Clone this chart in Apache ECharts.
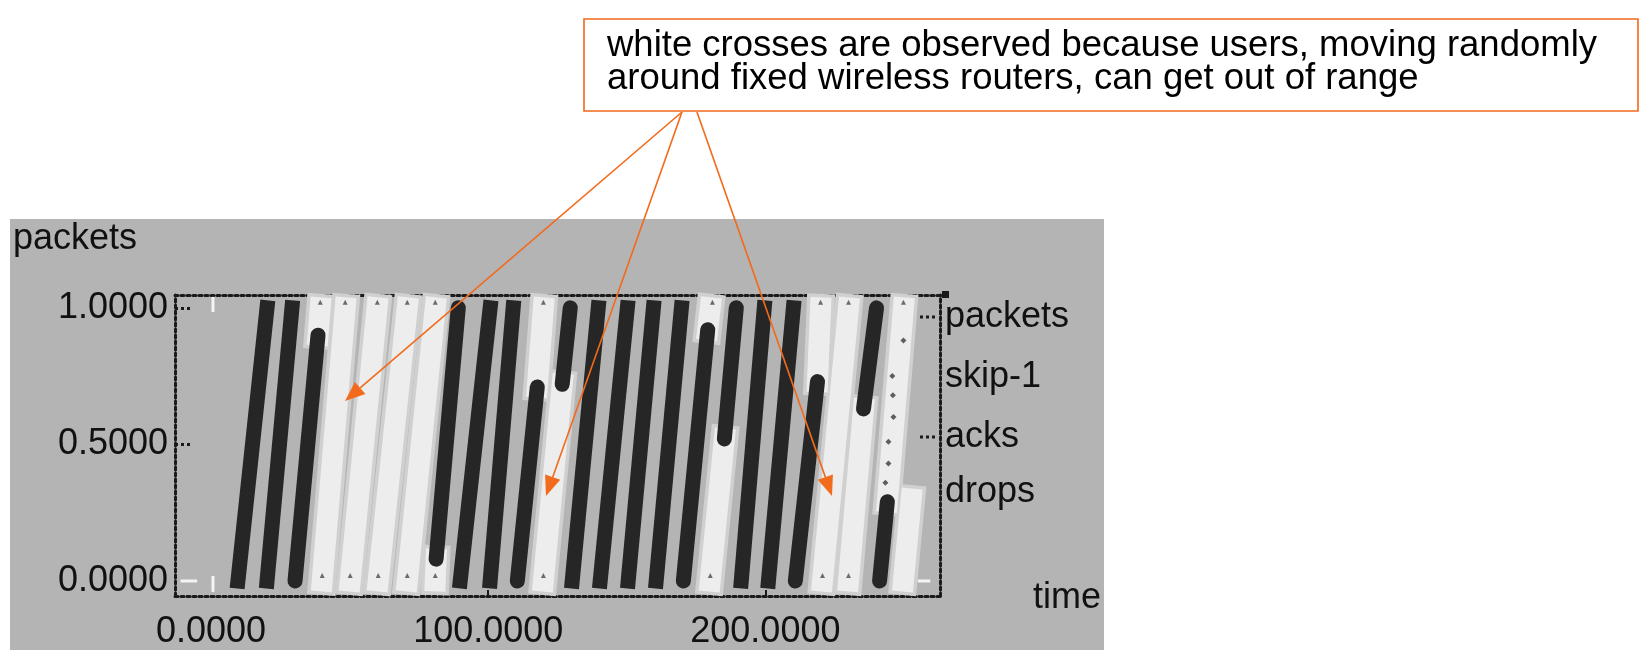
<!DOCTYPE html>
<html>
<head>
<meta charset="utf-8">
<script src="https://cdn.jsdelivr.net/npm/echarts@6/dist/echarts.min.js"></script>
<style>
html,body{margin:0;padding:0;background:#fff;}
#c{width:1640px;height:650px;}
</style>
</head>
<body>
<div id="c"></div>
<script>
// ---- data ----
const xTicks = [0, 100, 200];
const yTicks = [0, 0.5, 1];
const seriesNames = ['packets', 'skip-1', 'acks', 'drops'];
const annotationLines = ['white crosses are observed because users, moving randomly',
                         'around fixed wireless routers, can get out of range'];
// stripes: [time at start, packets at start, time at end, packets at end]
const packetsFull = [
  [9.7,0,20.2,1],[20.2,0,29.2,1],[89.9,0,100.7,1],[100.7,0,109.0,1],
  [130.3,0,139.7,1],[140.4,0,150.2,1],[150.5,0,159.6,1],[160.6,0,169.7,1],
  [191.3,0,199.6,1],[201.1,0,210.1,1]
];
const packetsPartial = [
  [30.3,0,38.6,0.9],[81.2,0.08,89.2,1],[110.5,0,117.7,0.71],[126.7,0.72,129.6,1],
  [170.4,0,179.2,0.92],[185.2,0.52,189.5,1],[210.8,0,218.8,0.73],
  [235.4,0.63,240.1,1],[241.2,0,244.0,0.29]
];
const skipStripes = [
  [38.6,0.9,39.4,1],[40.1,0,48.4,1],[50.2,0,59.9,1],[60.3,0,70.8,1],[70.8,0,80.9,1],
  [80.9,0,81.2,0.08],[117.7,0.71,119.9,1],[119.9,0,126.7,0.72],[179.2,0.92,180.1,1],
  [180.1,0,185.2,0.52],[218.8,0.73,219.9,1],[220.6,0,230.0,1],[230.0,0,235.4,0.63],
  [244.0,0.29,249.8,1],[249.8,0,252.6,0.3]
];
const ackMarks = [
  [39.4,1.02],[48.4,1.02],[60.0,1.02],[70.8,1.02],[80.9,1.02],[119.9,1.02],
  [180.9,1.02],[219.9,1.02],[230.0,1.02],[249.8,1.02],
  [40.1,0.02],[50.2,0.02],[60.3,0.02],[70.8,0.02],[80.9,0.02],[119.9,0.02],
  [180.1,0.02],[220.6,0.02],[230.0,0.02]
];
const dropMarks = [[245.8,0.75],[246.2,0.60],[244.4,0.51],[243.3,0.36],[249.8,0.88],[244.4,0.43],[246.0,0.68]];
const whiteMarks = [[0.7,0.985,0.7,1.04],[0.7,-0.04,0.7,0.018],[-11,0,-5,0],[255,0,259.5,0]];

// ---- chart ----
const FONT = "'Liberation Sans', Arial, Helvetica, sans-serif";
const ORANGE = '#f26a1b';
const dotted = {color:'#1a1a1a', width:3, type:[3,3]};

function segRender(width, color, cap) {
  return function (params, api) {
    const p1 = api.coord([api.value(0), api.value(1)]);
    const p2 = api.coord([api.value(2), api.value(3)]);
    return {type:'line', shape:{x1:p1[0], y1:p1[1], x2:p2[0], y2:p2[1]},
            style:{stroke:color, lineWidth:width, lineCap:cap}};
  };
}
function segSeries(name, data, width, color, cap) {
  return {type:'custom', name:name, data:data, encode:{x:[0,2], y:[1,3]},
          renderItem: segRender(width, color, cap), silent:true};
}

function arrow(x1, y1, x2, y2) {
  const dx = x2 - x1, dy = y2 - y1, L = Math.hypot(dx, dy);
  const ux = dx / L, uy = dy / L, len = 20, hw = 8;
  const bx = x2 - ux * len, by = y2 - uy * len;
  return [
    {type:'line', z:100, shape:{x1:x1, y1:y1, x2:bx, y2:by}, style:{stroke:ORANGE, lineWidth:1.6}},
    {type:'polygon', z:100, shape:{points:[[x2,y2],[bx-uy*hw, by+ux*hw],[bx+uy*hw, by-ux*hw]]}, style:{fill:ORANGE}}
  ];
}

const txt = (s, x, y) => ({type:'text', z:50,
  style:{text:s, x:x, y:y, fill:'#111', fontSize:36, fontFamily:FONT, align:'left', verticalAlign:'middle'}});

const graphics = [
  {type:'rect', z:-10, shape:{x:10, y:219, width:1094, height:431}, style:{fill:'#b4b4b4'}},
  txt('packets', 13, 239),
  txt(seriesNames[0], 945, 317),
  txt(seriesNames[1], 945, 377),
  txt(seriesNames[2], 945, 437),
  txt(seriesNames[3], 945, 492),
  txt('time', 1033, 598),
  {type:'rect', z:50, shape:{x:942, y:291, width:7, height:7}, style:{fill:'#1a1a1a'}},
  {type:'line', z:50, shape:{x1:920, y1:317, x2:937, y2:317}, style:{stroke:'#1a1a1a', lineWidth:3, lineDash:[3,3]}},
  {type:'line', z:50, shape:{x1:920, y1:437, x2:937, y2:437}, style:{stroke:'#1a1a1a', lineWidth:3, lineDash:[3,3]}},
  {type:'rect', z:100, shape:{x:584, y:19, width:1054, height:92}, style:{fill:'#ffffff', stroke:ORANGE, lineWidth:1.6}},
  {type:'text', z:101, style:{text:annotationLines[0], x:607, y:46, fill:'#000', fontSize:36.5, fontFamily:FONT, verticalAlign:'middle'}},
  {type:'text', z:101, style:{text:annotationLines[1], x:607, y:79, fill:'#000', fontSize:36.5, fontFamily:FONT, verticalAlign:'middle'}}
].concat(arrow(682,112,345,401), arrow(682,112,546,496), arrow(697,112,832,496));

const chart = echarts.init(document.getElementById('c'), null, {renderer:'canvas'});
chart.setOption({
  animation:false,
  backgroundColor:'#ffffff',
  grid:{left:175, top:295, width:765, height:302},
  xAxis:[
    {type:'value', min:-13, max:263, position:'bottom',
     axisLine:{onZero:false, lineStyle:dotted},
     axisTick:{inside:true, length:6, customValues:[100,200], lineStyle:{color:'#1a1a1a', width:2}},
     axisLabel:{customValues:xTicks, formatter:v => Number(v).toFixed(4), margin:18,
                color:'#111', fontSize:36, fontFamily:FONT},
     splitLine:{show:false}},
    {type:'value', min:-13, max:263, position:'top',
     axisLine:{onZero:false, lineStyle:dotted}, axisTick:{show:false}, axisLabel:{show:false}, splitLine:{show:false}}
  ],
  yAxis:[
    {type:'value', min:-0.055, max:1.047, position:'left',
     axisLine:{onZero:false, lineStyle:dotted},
     axisTick:{inside:true, length:17, customValues:[0.5,1], lineStyle:{color:'#1a1a1a', width:3, type:[3,3]}},
     axisLabel:{customValues:yTicks, formatter:v => Number(v).toFixed(4), margin:7,
                color:'#111', fontSize:36, fontFamily:FONT},
     splitLine:{show:false}},
    {type:'value', min:-0.055, max:1.047, position:'right',
     axisLine:{onZero:false, lineStyle:dotted}, axisTick:{show:false}, axisLabel:{show:false}, splitLine:{show:false}}
  ],
  series:[
    segSeries('skip-1', skipStripes, 28, '#d0d0d0', 'square'),
    segSeries('acks', skipStripes, 21, '#ededed', 'square'),
    segSeries('packets', packetsFull, 15, '#262626', 'square'),
    segSeries('packets', packetsPartial, 15, '#262626', 'round'),
    segSeries('marks', whiteMarks, 3, '#f4f4f4', 'butt'),
    {type:'scatter', name:'acks', data:ackMarks, symbol:'triangle', symbolSize:5,
     itemStyle:{color:'#4a4a4a'}, silent:true},
    {type:'scatter', name:'drops', data:dropMarks, symbol:'diamond', symbolSize:6,
     itemStyle:{color:'#3a3a3a'}, silent:true}
  ],
  graphic: graphics
});
</script>
</body>
</html>
